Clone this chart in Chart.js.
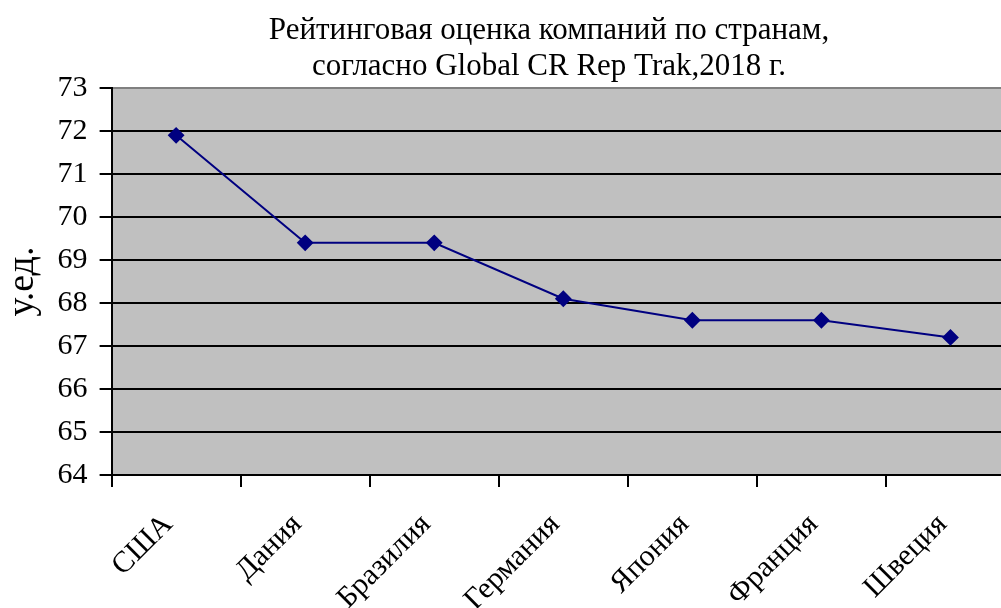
<!DOCTYPE html>
<html>
<head>
<meta charset="utf-8">
<script src="https://cdn.jsdelivr.net/npm/chart.js@4"></script>
<style>
    html, body { margin: 0; padding: 0; background: #fff; overflow: hidden; }
    #wrap { width: 1001px; height: 608px; overflow: hidden; position: relative; }
    canvas { position: absolute; left: 0; top: 0; }
</style>
</head>
<body>
<div id="wrap"><canvas id="chart" width="1098" height="638"></canvas></div>
<script>
const countries = ["США", "Дания", "Бразилия", "Германия", "Япония", "Франция", "Швеция"];
const scores = [71.9, 69.4, 69.4, 68.1, 67.6, 67.6, 67.2];
const titleLines = ["Рейтинговая оценка компаний по странам,", "согласно Global CR Rep Trak,2018 г."];
const yLabel = "у.ед.";

const serif = "'Liberation Serif', 'Times New Roman', serif";

const plotBg = {
    id: "plotBg",
    beforeDraw(chart) {
        const { ctx, chartArea: a } = chart;
        ctx.save();
        ctx.fillStyle = "#c0c0c0";
        ctx.fillRect(a.left, a.top, a.right - a.left, a.bottom - a.top);
        ctx.restore();
    }
};

// title sits a bit left of the plot centre, as in the original
const titleText = {
    id: "titleText",
    afterDraw(chart) {
        const c = chart.ctx;
        c.save();
        c.fillStyle = "#000";
        c.font = "31px " + serif;
        c.textAlign = "center";
        c.textBaseline = "middle";
        titleLines.forEach((line, i) => c.fillText(line, 549, 31 + i * 36));
        c.restore();
    }
};

const ctx = document.getElementById("chart").getContext("2d");
new Chart(ctx, {
    type: "line",
    data: {
        labels: countries,
        datasets: [{
            data: scores,
            borderColor: "#000080",
            backgroundColor: "#000080",
            borderWidth: 2,
            pointStyle: "rectRot",
            pointRadius: 7,
            pointHoverRadius: 7,
            tension: 0,
            fill: false
        }]
    },
    options: {
        responsive: false,
        animation: false,
        layout: { padding: { left: 0, right: 83, top: 88, bottom: 0 } },
        plugins: {
            legend: { display: false },
            tooltip: { enabled: false },
            title: { display: false }
        },
        scales: {
            x: {
                offset: true,
                grid: {
                    offset: true,
                    drawOnChartArea: false,
                    color: "#000",
                    lineWidth: 2,
                    tickLength: 12
                },
                border: { color: "#000", width: 2 },
                ticks: {
                    color: "#000",
                    font: { family: serif, size: 30 },
                    minRotation: 45,
                    maxRotation: 45,
                    padding: 20,
                    labelOffset: -8
                }
            },
            y: {
                min: 64,
                max: 73,
                grid: {
                    color: c => (c.tick && c.tick.value === 73) ? "#808080" : "#000",
                    tickColor: "#000",
                    lineWidth: 2,
                    tickLength: 12
                },
                border: { color: "#000", width: 2 },
                ticks: {
                    stepSize: 1,
                    color: "#000",
                    font: { family: serif, size: 30 },
                    padding: 12
                },
                title: {
                    display: true,
                    text: yLabel,
                    color: "#000",
                    font: { family: serif, size: 38 },
                    padding: { top: 0, bottom: 0 }
                }
            }
        }
    },
    plugins: [plotBg, titleText]
});
</script>
</body>
</html>
